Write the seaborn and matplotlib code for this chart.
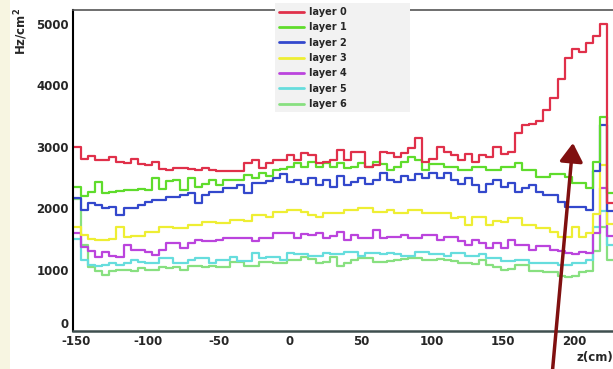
import matplotlib
matplotlib.use('Agg')
import matplotlib.pyplot as plt
from matplotlib.patches import Rectangle
from matplotlib.ticker import MultipleLocator
import numpy as np
import pandas as pd
import seaborn as sns

# histogram bins along z (cm), 5 cm wide; the last one runs past the frame
bin_edges = list(range(-152, 229, 5))

# hit rate per bin (Hz/cm^2)
layer0 = [3000, 2800, 2850, 2780, 2780, 2840, 2750, 2740, 2800, 2720,
          2700, 2760, 2640, 2620, 2650, 2660, 2640, 2620, 2650, 2620,
          2600, 2600, 2600, 2610, 2740, 2790, 2660, 2740, 2790, 2790,
          2870, 2790, 2900, 2860, 2740, 2760, 2790, 2950, 2790, 2920,
          2920, 2680, 2700, 2920, 2900, 2840, 2900, 2980, 3150, 2760,
          2800, 3000, 2920, 2870, 2790, 2880, 2760, 2860, 2840, 3000,
          2880, 2920, 3230, 3360, 3380, 3420, 3600, 3800, 4100, 4450,
          4600, 4550, 4700, 4800, 5000, 2090]
layer1 = [2350, 2200, 2260, 2420, 2250, 2260, 2280, 2290, 2300, 2320,
          2300, 2500, 2320, 2450, 2460, 2300, 2490, 2350, 2400, 2460,
          2380, 2460, 2460, 2460, 2540, 2490, 2580, 2520, 2620, 2640,
          2670, 2740, 2670, 2750, 2670, 2740, 2670, 2740, 2650, 2670,
          2740, 2670, 2760, 2720, 2620, 2670, 2760, 2840, 2790, 2620,
          2720, 2720, 2670, 2670, 2620, 2620, 2670, 2670, 2620, 2620,
          2670, 2670, 2730, 2620, 2620, 2510, 2510, 2560, 2560, 2510,
          2410, 2410, 2330, 2750, 3490, 2250]
layer2 = [2170, 1970, 2085, 2060, 2000, 2020, 1890, 2000, 2010, 2060,
          2100, 2135, 2135, 2185, 2190, 2210, 2250, 2085, 2210, 2270,
          2270, 2330, 2330, 2380, 2250, 2410, 2410, 2450, 2500, 2550,
          2430, 2460, 2400, 2490, 2380, 2460, 2350, 2520, 2380, 2430,
          2490, 2400, 2460, 2580, 2460, 2430, 2520, 2460, 2550, 2490,
          2580, 2490, 2580, 2460, 2400, 2490, 2380, 2270, 2400, 2460,
          2350, 2410, 2270, 2330, 2380, 2270, 2220, 2220, 2100, 2020,
          2020, 2020, 1970, 2600, 3360, 1950]
layer3 = [1700, 1560, 1500, 1480, 1490, 1500, 1700, 1530, 1540, 1550,
          1610, 1620, 1700, 1690, 1680, 1680, 1730, 1720, 1780, 1780,
          1760, 1760, 1810, 1810, 1800, 1890, 1890, 1860, 1940, 1940,
          1970, 1970, 1940, 1890, 1850, 1920, 1920, 1930, 1970, 1970,
          2000, 2000, 1940, 1940, 1970, 1920, 1920, 1970, 1970, 1920,
          1920, 1930, 1930, 1840, 1860, 1730, 1860, 1860, 1730, 1790,
          1770, 1840, 1840, 1730, 1730, 1680, 1680, 1620, 1530, 1530,
          1700, 1530, 1600, 1900, 2700, 1750]
layer4 = [1600, 1370, 1300, 1200, 1290, 1230, 1210, 1400, 1320, 1320,
          1290, 1240, 1320, 1430, 1430, 1350, 1430, 1480, 1460, 1460,
          1480, 1510, 1510, 1510, 1510, 1460, 1510, 1510, 1600, 1600,
          1600, 1510, 1580, 1560, 1600, 1510, 1550, 1620, 1490, 1560,
          1510, 1510, 1650, 1510, 1530, 1530, 1570, 1510, 1510, 1570,
          1570, 1490, 1530, 1530, 1460, 1400, 1490, 1430, 1350, 1430,
          1350, 1480, 1400, 1400, 1320, 1380, 1380, 1320, 1300, 1270,
          1250, 1290, 1270, 1600, 2330, 1550]
layer5 = [1500, 1150, 1080, 1060, 1080, 1100, 1080, 1100, 1160, 1120,
          1110, 1110, 1190, 1190, 1110, 1110, 1160, 1190, 1190, 1110,
          1160, 1160, 1210, 1140, 1140, 1270, 1190, 1210, 1210, 1160,
          1270, 1250, 1250, 1230, 1230, 1270, 1250, 1250, 1290, 1290,
          1230, 1270, 1270, 1250, 1270, 1250, 1230, 1230, 1290, 1290,
          1250, 1250, 1230, 1270, 1270, 1230, 1230, 1250, 1190, 1190,
          1140, 1140, 1160, 1160, 1110, 1110, 1100, 1100, 1070, 1070,
          1110, 1110, 1160, 1700, 1950, 1400]
layer6 = [2150, 1400, 1040, 970, 920, 970, 1000, 1000, 970, 1020,
          1000, 1000, 1040, 1030, 1040, 1000, 1060, 1060, 1040, 1060,
          1050, 1040, 1120, 1120, 1060, 1060, 1120, 1120, 1110, 1110,
          1160, 1160, 1210, 1180, 1110, 1130, 1210, 1060, 1100, 1160,
          1190, 1190, 1130, 1130, 1140, 1160, 1170, 1190, 1190, 1150,
          1150, 1170, 1160, 1140, 1110, 1100, 1090, 1150, 1070, 1050,
          990, 1010, 1070, 1070, 975, 975, 960, 960, 900, 880,
          900, 960, 980, 1300, 1700, 1150]

layer_names = ['layer 0', 'layer 1', 'layer 2', 'layer 3', 'layer 4', 'layer 5', 'layer 6']
layer_colors = ['#e0304a', '#5fdc2c', '#3348cc', '#eeee33', '#bb44dd', '#66dddd', '#88e080']

z_centers = np.array(bin_edges[:-1]) + 2.5
series = [layer0, layer1, layer2, layer3, layer4, layer5, layer6]
df = pd.concat([pd.DataFrame({'z': z_centers, 'rate': vals, 'layer': name})
                for name, vals in zip(layer_names, series)], ignore_index=True)

sns.set_style('white')
plt.rcParams['font.family'] = ['DejaVu Sans']
plt.rcParams['axes.unicode_minus'] = False

W, H = 613, 369
fig = plt.figure(figsize=(W / 100, H / 100), dpi=100)
ax = fig.add_axes([73 / W, 38 / H, (W - 73) / W, (331 - 10) / H])

sns.histplot(data=df, x='z', weights='rate', hue='layer', hue_order=layer_names,
             palette=dict(zip(layer_names, layer_colors)), bins=bin_edges,
             element='step', fill=False, linewidth=1.6, ax=ax)

ax.set_xlim(-152.5, 227)
ax.set_ylim(0, 5230)
ax.xaxis.set_major_locator(MultipleLocator(50))
ax.xaxis.set_minor_locator(MultipleLocator(10))
ax.yaxis.set_major_locator(MultipleLocator(1000))
ax.yaxis.set_minor_locator(MultipleLocator(200))
ax.tick_params(axis='both', which='both', direction='in', labelsize=8.5, color='#222222')
ax.tick_params(axis='x', which='major', length=6, width=1.2, pad=3)
ax.tick_params(axis='x', which='minor', length=3, width=1.2)
ax.tick_params(axis='y', which='major', length=11.5, width=1.3, pad=3)
ax.tick_params(axis='y', which='minor', length=5, width=1.3)
for lab in ax.get_xticklabels() + ax.get_yticklabels():
    lab.set_fontweight('bold')

ax.spines['right'].set_visible(False)
ax.spines['left'].set(color='black', linewidth=1.5)
ax.spines['bottom'].set(color='#3f4f4f', linewidth=1.8)
ax.spines['top'].set(color='#555555', linewidth=1.2)

ax.set_ylabel(r'Hz/cm$^\mathbf{2}$', loc='top', fontsize=8.5, fontweight='bold')
ax.yaxis.set_label_coords((30 - 73) / (W - 73), 1.006)
ax.set_xlabel('z(cm)', loc='right', fontsize=8.5, fontweight='bold', labelpad=2)

# legend panel
ax.add_patch(Rectangle((275 / W, 1 - 112 / H), 135 / W, 109 / H, transform=fig.transFigure,
                       facecolor='#f2f2f2', edgecolor='none', clip_on=False, zorder=4))
sns.move_legend(ax, 'upper left', bbox_to_anchor=(276 / W, 1 - 4 / H),
                bbox_transform=fig.transFigure, title=None, frameon=False,
                prop={'weight': 'bold', 'size': 7}, handlelength=2.6,
                handletextpad=0.5, labelspacing=0.55, borderaxespad=0, borderpad=0.3)
for h in ax.get_legend().legend_handles:
    h.set_linewidth(2)

# left page strip
fig.patches.append(Rectangle((0, 0), 10 / W, 1, transform=fig.transFigure,
                             facecolor='#f7f5e1', edgecolor='none', zorder=-1))

# arrow pointing at the rise near the end cap
ax.annotate('', xy=(573 / W, 1 - 143 / H), xycoords='figure fraction',
            xytext=(552 / W, 1 - 376 / H), textcoords='figure fraction',
            arrowprops=dict(arrowstyle='-|>,head_length=0.8,head_width=0.5',
                            color='#801010', lw=2.5, mutation_scale=14,
                            shrinkA=0, shrinkB=0),
            annotation_clip=False)

# the "0" on the y axis sits on the axis line, as in ROOT
fig.canvas.draw()
for t in ax.yaxis.get_major_ticks():
    if t.get_loc() == 0:
        t.label1.set_verticalalignment('bottom')

fig.savefig('out.png', dpi=100)
